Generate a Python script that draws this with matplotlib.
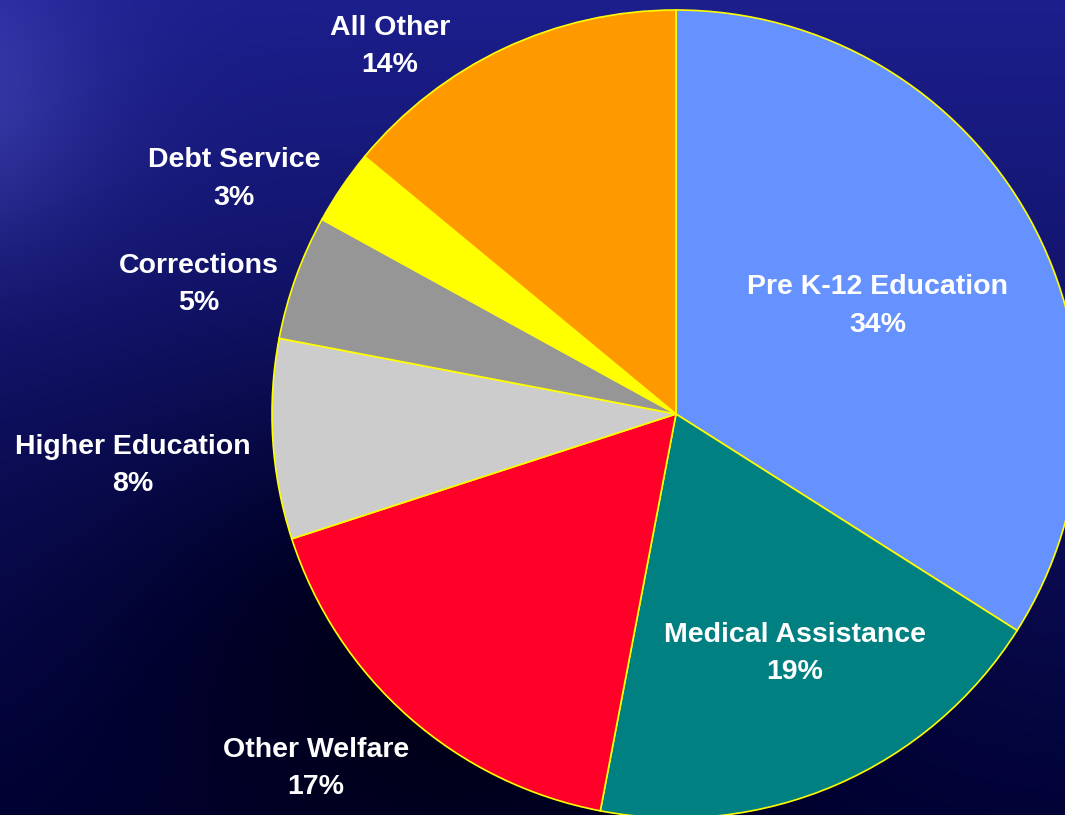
import numpy as np
import matplotlib.pyplot as plt

# Budget shares (%)
categories = ['Pre K-12 Education', 'Medical Assistance', 'Other Welfare',
              'Higher Education', 'Corrections', 'Debt Service', 'All Other']
shares = [34, 19, 17, 8, 5, 3, 14]
colors = ['#6692FF', '#008080', '#FF0028', '#CCCCCC', '#969696', '#FFFF00', '#FF9900']

# label placement: (distance in radii, angle shift in degrees)
label_layout = [(0.57, 0), (0.655, 3.3), (1.245, -4.3), (1.35, 1.5), (1.225, 4.3), (1.239, 6.2), (1.153, 12.7)]

W, H = 1065, 815
fig = plt.figure(figsize=(W / 100, H / 100), dpi=100)

# background: dark blue gradient
bg = fig.add_axes([0, 0, 1, 1])
yy, xx = np.mgrid[0:H, 0:W]
t = yy / H
r = 0.11 * (1 - t) + 0.01 * t
g = 0.12 * (1 - t) + 0.01 * t
b = 0.55 * (1 - t) + 0.22 * t
# darker region lower middle
d = np.exp(-((xx - 450) ** 2 / (2 * 250 ** 2) + (yy - 600) ** 2 / (2 * 180 ** 2)))
b = b - 0.2 * d
r = r - 0.05 * d
g = g - 0.05 * d
# brighter top-left glow
gl = np.exp(-((xx + 60) ** 2 + (yy - 100) ** 2) / (2 * 110 ** 2))
r += 0.12 * gl
g += 0.12 * gl
b += 0.15 * gl
img = np.clip(np.dstack([r, g, b]), 0, 1)
bg.imshow(img, extent=[0, W, 0, H], aspect='auto')
bg.axis('off')

ax = fig.add_axes([0, 0, 1, 1])
ax.patch.set_alpha(0)
cx, cy, R = 676, H - 414, 404
wedges, _ = ax.pie(shares, colors=colors, startangle=90, counterclock=False,
                   center=(cx, cy), radius=R,
                   wedgeprops=dict(edgecolor='#FFFF00', linewidth=1.2))
ax.set_xlim(0, W)
ax.set_ylim(0, H)
ax.set_aspect('equal')
ax.axis('off')

for i, (w, name, val, (dist, shift)) in enumerate(zip(wedges, categories, shares, label_layout)):
    ang = np.deg2rad((w.theta1 + w.theta2) / 2 + shift)
    x = cx + dist * R * np.cos(ang)
    y = cy + dist * R * np.sin(ang)
    if i < 5:
        y -= 3
    ax.text(x, y, f'{name}\n{val}%', ha='center', va='center', color='white',
            fontsize=20.5, fontweight='bold', family='Liberation Sans', linespacing=1.56)

fig.savefig('out.png', dpi=100)
